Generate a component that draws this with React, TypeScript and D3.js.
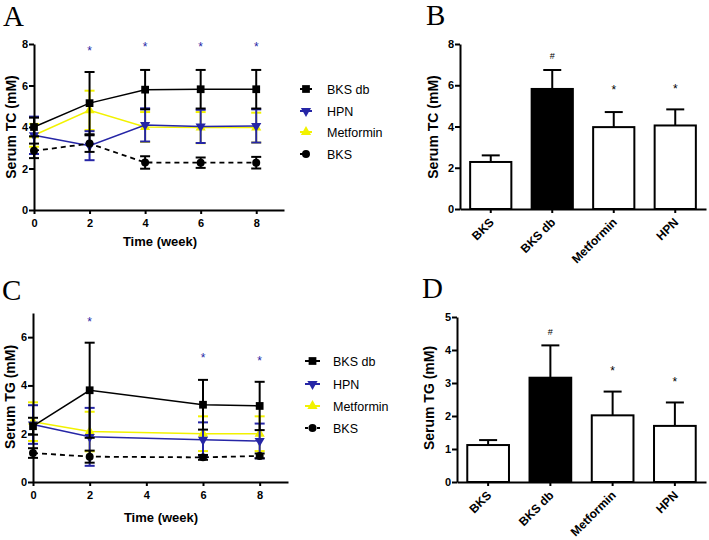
import { useRef, useEffect } from 'react'
import {
  select,
  scaleLinear,
  scaleBand,
  line,
  symbol,
  symbolSquare,
  symbolTriangle,
  symbolCircle,
  axisLeft,
  axisBottom,
} from 'd3'

// panel A - serum TC over time
const weeksTC = [0, 2, 4, 6, 8]
const tcBksDb = [4.0, 5.15, 5.8, 5.82, 5.82]
const tcBksDbSd = [0.45, 1.5, 0.95, 0.93, 0.93]
const tcHpn = [3.6, 3.1, 4.1, 4.03, 4.05]
const tcHpnSd = [0.9, 0.7, 0.8, 0.8, 0.8]
const tcMet = [3.6, 4.8, 4.0, 3.97, 3.97]
const tcMetSd = [0.55, 0.95, 0.72, 0.75, 0.72]
const tcBks = [2.85, 3.2, 2.29, 2.28, 2.28]
const tcBksSd = [0.35, 0.4, 0.3, 0.25, 0.28]
const tcStarWeeks = [2, 4, 6, 8]
const tcStarY = [7.7, 7.88, 7.88, 7.88]

// panel C - serum TG over time
const weeksTG = [0, 2, 6, 8]
const tgBksDb = [2.31, 3.8, 3.2, 3.15]
const tgBksDbSd = [0.35, 1.97, 1.03, 1.0]
const tgHpn = [2.38, 1.87, 1.75, 1.7]
const tgHpnSd = [0.8, 1.2, 0.72, 0.72]
const tgMet = [2.5, 2.09, 2.0, 2.0]
const tgMetSd = [0.8, 0.82, 0.72, 0.72]
const tgBks = [1.2, 1.05, 1.02, 1.08]
const tgBksSd = [0.2, 0.25, 0.1, 0.1]
const tgStarWeeks = [2, 6, 8]
const tgStarY = [6.68, 5.17, 5.06]

// panels B, D - week 8 bars
const groups = ['BKS', 'BKS db', 'Metformin', 'HPN']
const barFill = ['#fff', '#000', '#fff', '#fff']
const tcBar = [2.28, 5.82, 3.97, 4.05]
const tcBarErr = [0.32, 0.92, 0.73, 0.78]
const tcMarks = ['', '#', '*', '*']
const tcMarkY = [0, 7.48, 5.78, 5.82]
const tgBar = [1.12, 3.16, 2.02, 1.7]
const tgBarErr = [0.15, 0.98, 0.72, 0.71]
const tgMarks = ['', '#', '*', '*']
const tgMarkY = [0, 4.57, 3.36, 3.03]

const legendNames = ['BKS db', 'HPN', 'Metformin', 'BKS']

const BLUE = '#2626a6'
const YELLOW = '#f2f200'
const FONT = '"Liberation Sans", Arial, sans-serif'

const seriesStyle = [
  { color: '#000', shape: 'square', dash: null },
  { color: BLUE, shape: 'down', dash: null },
  { color: YELLOW, shape: 'up', dash: null },
  { color: '#000', shape: 'circle', dash: '5,4' },
]

function markerPath(shape) {
  if (shape === 'square') return symbol(symbolSquare, 60)()
  if (shape === 'circle') return symbol(symbolCircle, 50)()
  return symbol(symbolTriangle, 45)()
}

function drawMarker(g, shape, color, x, y) {
  g.append('path')
    .attr('d', markerPath(shape))
    .attr('fill', color)
    .attr(
      'transform',
      `translate(${x},${y})${shape === 'down' ? ' rotate(180)' : ''}`
    )
}

function styleAxis(axisGroup, size = 11) {
  axisGroup.selectAll('.domain, .tick line').attr('stroke', '#000').attr('stroke-width', 2)
  axisGroup
    .selectAll('text')
    .attr('fill', '#000')
    .attr('font-family', FONT)
    .attr('font-weight', 'bold')
    .attr('font-size', size)
}

function yLabel(svg, text, x, y) {
  svg
    .append('text')
    .text(text)
    .attr('transform', `translate(${x},${y}) rotate(-90)`)
    .attr('text-anchor', 'middle')
    .attr('font-family', FONT)
    .attr('font-weight', 'bold')
    .attr('font-size', 14)
}

function panelLetter(svg, text, x, y) {
  svg
    .append('text')
    .text(text)
    .attr('x', x)
    .attr('y', y)
    .attr('font-family', '"Liberation Serif", "Times New Roman", serif')
    .attr('font-size', 29)
}

const intFormat = (d) => String(d)

function renderLinePanel(svg, cfg) {
  const xScale = scaleLinear().domain([0, 9]).range(cfg.xRange)
  const yScale = scaleLinear().domain([0, cfg.yMax]).range(cfg.yRange)

  const g = svg.append('g')

  // draw order: metformin, hpn, bks, bks db
  const order = [2, 1, 3, 0]
  order.forEach((i) => {
    const st = seriesStyle[i]
    const vals = cfg.series[i]
    const sds = cfg.sds[i]
    const pts = cfg.weeks.map((w, k) => [w, vals[k], sds[k]])
    const lineGen = line()
      .x((d) => xScale(d[0]))
      .y((d) => yScale(d[1]))

    const sg = g.append('g')
    pts.forEach((d) => {
      const x = xScale(d[0])
      const y0 = yScale(d[1] - d[2])
      const y1 = yScale(d[1] + d[2])
      sg.append('line')
        .attr('x1', x).attr('x2', x).attr('y1', y0).attr('y2', y1)
        .attr('stroke', st.color).attr('stroke-width', 2)
      ;[y0, y1].forEach((yy) => {
        sg.append('line')
          .attr('x1', x - 5).attr('x2', x + 5).attr('y1', yy).attr('y2', yy)
          .attr('stroke', st.color).attr('stroke-width', 2)
      })
    })
    sg.append('path')
      .attr('d', lineGen(pts))
      .attr('fill', 'none')
      .attr('stroke', st.color)
      .attr('stroke-width', st.dash ? 1.8 : 1.5)
      .attr('stroke-dasharray', st.dash)
    pts.forEach((d) => drawMarker(sg, st.shape, st.color, xScale(d[0]), yScale(d[1])))
  })

  cfg.starWeeks.forEach((w, k) => {
    g.append('text')
      .text('*')
      .attr('x', xScale(w))
      .attr('y', yScale(cfg.starY[k]) + 5)
      .attr('text-anchor', 'middle')
      .attr('fill', BLUE)
      .attr('font-family', FONT)
      .attr('font-size', 12)
  })

  const yAxisGroup = svg
    .append('g')
    .attr('transform', `translate(${cfg.xRange[0]},0)`)
    .call(
      axisLeft(yScale)
        .tickValues(cfg.yTicks)
        .tickFormat(intFormat)
        .tickSize(5)
        .tickPadding(1)
        .tickSizeOuter(0)
    )
  styleAxis(yAxisGroup)

  const xAxisGroup = svg
    .append('g')
    .attr('transform', `translate(0,${cfg.yRange[0]})`)
    .call(
      axisBottom(xScale)
        .tickValues([0, 2, 4, 6, 8])
        .tickFormat(intFormat)
        .tickSize(4)
        .tickPadding(5)
        .tickSizeOuter(0)
    )
  styleAxis(xAxisGroup)

  svg
    .append('text')
    .text('Time (week)')
    .attr('x', cfg.xLabel[0])
    .attr('y', cfg.xLabel[1])
    .attr('text-anchor', 'middle')
    .attr('font-family', FONT)
    .attr('font-weight', 'bold')
    .attr('font-size', 13)

  yLabel(svg, cfg.yTitle, cfg.yTitlePos[0], cfg.yTitlePos[1])

  // legend
  legendNames.forEach((name, i) => {
    const st = seriesStyle[i]
    const ly = cfg.legendY[i]
    const [lx0, lx1] = cfg.legendLine
    svg.append('line')
      .attr('x1', lx0).attr('x2', lx1).attr('y1', ly).attr('y2', ly)
      .attr('stroke', st.color).attr('stroke-width', 2)
      .attr('stroke-dasharray', st.dash ? '3,3' : null)
    drawMarker(svg, st.shape, st.color, (lx0 + lx1) / 2, ly)
    svg.append('text')
      .text(name)
      .attr('x', cfg.legendTextX)
      .attr('y', ly + 4.5)
      .attr('font-family', FONT)
      .attr('font-size', 12.5)
  })
}

function renderBarPanel(svg, cfg) {
  const xScale = scaleBand()
    .domain(groups)
    .range(cfg.xRange)
    .paddingInner(0.33)
    .paddingOuter(0.165)
  const yScale = scaleLinear().domain([0, cfg.yMax]).range(cfg.yRange)
  const g = svg.append('g')

  groups.forEach((name, i) => {
    const cx = xScale(name) + xScale.bandwidth() / 2
    const yTop = yScale(cfg.values[i])
    const yErr = yScale(cfg.values[i] + cfg.errs[i])
    g.append('line')
      .attr('x1', cx).attr('x2', cx).attr('y1', yTop).attr('y2', yErr)
      .attr('stroke', '#000').attr('stroke-width', 2)
    g.append('line')
      .attr('x1', cx - 9).attr('x2', cx + 9).attr('y1', yErr).attr('y2', yErr)
      .attr('stroke', '#000').attr('stroke-width', 2)
    g.append('rect')
      .attr('x', xScale(name))
      .attr('y', yTop)
      .attr('width', xScale.bandwidth())
      .attr('height', yScale(0) - yTop)
      .attr('fill', barFill[i])
      .attr('stroke', '#000')
      .attr('stroke-width', 2)
    if (cfg.marks[i]) {
      g.append('text')
        .text(cfg.marks[i])
        .attr('x', cx)
        .attr('y', yScale(cfg.markY[i]) + 4)
        .attr('text-anchor', 'middle')
        .attr('font-family', FONT)
        .attr('font-size', cfg.marks[i] === '#' ? 9 : 12)
    }
  })

  const yAxisGroup = svg
    .append('g')
    .attr('transform', `translate(${cfg.xRange[0]},0)`)
    .call(
      axisLeft(yScale)
        .tickValues(cfg.yTicks)
        .tickFormat(intFormat)
        .tickSize(5)
        .tickPadding(1)
        .tickSizeOuter(0)
    )
  styleAxis(yAxisGroup)

  const xAxisGroup = svg
    .append('g')
    .attr('transform', `translate(0,${cfg.yRange[0]})`)
    .call(axisBottom(xScale).tickSize(4).tickSizeOuter(0))
  styleAxis(xAxisGroup, 12)
  xAxisGroup
    .selectAll('text')
    .attr('x', null)
    .attr('y', null)
    .attr('dy', null)
    .attr('text-anchor', 'end')
    .attr('transform', 'translate(4,14) rotate(-45)')

  yLabel(svg, cfg.yTitle, cfg.yTitlePos[0], cfg.yTitlePos[1])
}

const App = () => {
  const svgRef = useRef(null)

  useEffect(() => {
    const svg = select(svgRef.current)
    svg.selectAll('*').remove()

    panelLetter(svg, 'A', 3, 26)
    panelLetter(svg, 'B', 426, 25)
    panelLetter(svg, 'C', 2, 300)
    panelLetter(svg, 'D', 422, 298)

    renderLinePanel(svg, {
      xRange: [34, 284],
      yRange: [210, 44],
      yMax: 8,
      yTicks: [0, 2, 4, 6, 8],
      weeks: weeksTC,
      series: [tcBksDb, tcHpn, tcMet, tcBks],
      sds: [tcBksDbSd, tcHpnSd, tcMetSd, tcBksSd],
      starWeeks: tcStarWeeks,
      starY: tcStarY,
      xLabel: [160, 246],
      yTitle: 'Serum TC (mM)',
      yTitlePos: [16, 127],
      legendY: [89, 111, 132, 154],
      legendLine: [300, 312],
      legendTextX: 327,
    })

    renderLinePanel(svg, {
      xRange: [33, 288],
      yRange: [482, 313],
      yMax: 7,
      yTicks: [0, 2, 4, 6],
      weeks: weeksTG,
      series: [tgBksDb, tgHpn, tgMet, tgBks],
      sds: [tgBksDbSd, tgHpnSd, tgMetSd, tgBksSd],
      starWeeks: tgStarWeeks,
      starY: tgStarY,
      xLabel: [161, 522],
      yTitle: 'Serum TG (mM)',
      yTitlePos: [15, 397],
      legendY: [361, 384, 406, 428],
      legendLine: [305, 320],
      legendTextX: 333,
    })

    renderBarPanel(svg, {
      xRange: [460, 706],
      yRange: [209, 44],
      yMax: 8,
      yTicks: [0, 2, 4, 6, 8],
      values: tcBar,
      errs: tcBarErr,
      marks: tcMarks,
      markY: tcMarkY,
      yTitle: 'Serum TC (mM)',
      yTitlePos: [438, 127],
    })

    renderBarPanel(svg, {
      xRange: [457, 706],
      yRange: [482, 317],
      yMax: 5,
      yTicks: [0, 1, 2, 3, 4, 5],
      values: tgBar,
      errs: tgBarErr,
      marks: tgMarks,
      markY: tgMarkY,
      yTitle: 'Serum TG (mM)',
      yTitlePos: [434, 398],
    })
  }, [])

  return (
    <div style={{ position: 'absolute', left: 0, top: 0 }}>
      <svg width="709" height="540" ref={svgRef} style={{ display: 'block', background: '#fff' }}></svg>
    </div>
  )
}

export default App
